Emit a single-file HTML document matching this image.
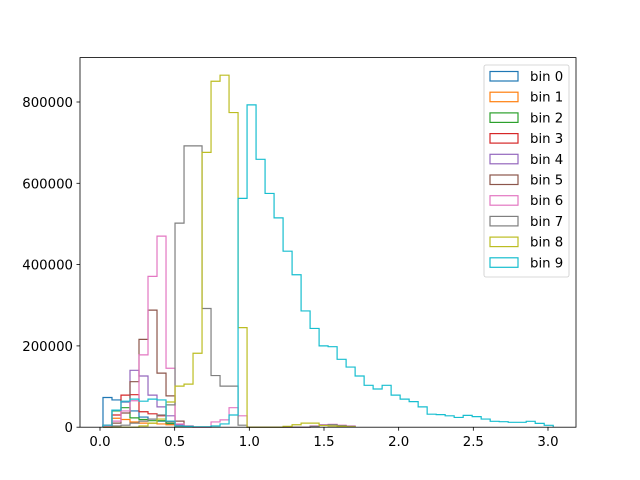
<!DOCTYPE html>
<html><head><meta charset="utf-8"><style>
body{margin:0;background:#fff}
svg{display:block;font-family:"DejaVu Sans","Liberation Sans",sans-serif}
</style></head><body>
<svg id="chart" width="640" height="480"></svg>
<script>
const binStart = 0.02;
const binWidth = 0.0603;
const seriesNames = ["bin 0","bin 1","bin 2","bin 3","bin 4","bin 5","bin 6","bin 7","bin 8","bin 9"];
const colors = ["#1f77b4","#ff7f0e","#2ca02c","#d62728","#9467bd","#8c564b","#e377c2","#7f7f7f","#bcbd22","#17becf"];
const s0 = [73000,67000,62000,40000,25000,20000,15000,8000,3000];
const s1 = [5000,22000,19000,13000,10000,10000,8000,6000,2000];
const s2 = [5000,40000,48000,23000,19000,16000,16000,10000,3000];
const s3 = [5000,30000,79000,80000,38000,33000,28000,14000,5000];
const s4 = [5000,42000,63000,140000,126000,79000,50000,28000,5000];
const s5 = [2000,10000,35000,112000,216000,288000,133000,77000,15000,3000];
const s6 = [3000,15000,40000,65000,178000,371000,470000,145000,8000,3000,0,0,13000,18000,48000,28000,0,0,0,0,0,0,0,3000,6000,7000,5000,3000];
const s7 = [0,3000,5000,10000,15000,20000,30000,55000,502000,692000,692000,292000,127000,101000,101000,5000,0,0,0,0,0,0,0,2000,5000,6000,4000,2000];
const s8 = [0,0,0,0,3000,10000,20000,62000,101000,106000,182000,676000,851000,866000,774000,245000,0,0,0,0,2000,6000,10000,10000,4000,3000,2000,1000];
const s9 = [5000,42000,64000,69000,64000,69000,67000,15000,3000,2000,1000,1000,3000,8000,30000,563000,793000,659000,575000,515000,433000,375000,286000,243000,200000,198000,167000,148000,126000,103000,94000,103000,79000,69000,63000,50000,32000,31000,28000,24000,29000,26000,20000,14500,13600,12000,12000,14500,9500,4700];
const allSeries = [s0,s1,s2,s3,s4,s5,s6,s7,s8,s9];
const xTicks = [0,0.5,1,1.5,2,2.5,3];
const xTickLabels = ["0.0","0.5","1.0","1.5","2.0","2.5","3.0"];
const yTicks = [0,200000,400000,600000,800000];

const L=80,R=576,T=57.6,B=427.2;
const xs = v => 100 + v*149.33;
const ys = v => B - v*0.0004065;
const NS="http://www.w3.org/2000/svg";
const svg=document.getElementById('chart');
function mk(tag,attrs,parent){const e=document.createElementNS(NS,tag);for(const k in attrs)e.setAttribute(k,attrs[k]);(parent||svg).appendChild(e);return e;}

const plot=mk('g',{});


allSeries.forEach((vals,si)=>{
  let d=`M${xs(binStart).toFixed(2)},${ys(0).toFixed(2)}`;
  vals.forEach((v,i)=>{
    const x0=xs(binStart+i*binWidth), x1=xs(binStart+(i+1)*binWidth), y=ys(v);
    d+=` L${x0.toFixed(2)},${y.toFixed(2)} L${x1.toFixed(2)},${y.toFixed(2)}`;
  });
  d+=` L${xs(binStart+vals.length*binWidth).toFixed(2)},${ys(0).toFixed(2)}`;
  const p=mk('path',{d:d,fill:'none',stroke:colors[si],'stroke-width':1.2},plot);
  
  
});
const frame=mk('rect',{x:L,y:T,width:R-L,height:B-T,fill:'none',stroke:'#000','stroke-width':0.8});


xTicks.forEach((t,i)=>{
  const x=xs(t);
  mk('line',{x1:x,x2:x,y1:B,y2:B+3.5,stroke:'#000','stroke-width':0.8});
  const tx=mk('text',{x:x,y:B+19,'text-anchor':'middle','font-size':13.3,fill:'#000'});
  tx.textContent=xTickLabels[i];
  
  
});
yTicks.forEach(t=>{
  const y=ys(t);
  mk('line',{x1:L-3.5,x2:L,y1:y,y2:y,stroke:'#000','stroke-width':0.8});
  const tx=mk('text',{x:L-7,y:y+5,'text-anchor':'end','font-size':13.3,fill:'#000'});
  tx.textContent=String(t);
  
  
});
const lg=mk('g',{});


mk('rect',{x:484,y:65,width:85,height:212,rx:2,fill:'#fff','fill-opacity':0.8,stroke:'#ccc','stroke-width':0.8},lg);
seriesNames.forEach((n,i)=>{
  const cy=76+i*20.7;
  const g=mk('g',{},lg);
  
  
  mk('rect',{x:490,y:cy-4.5,width:28,height:9.5,fill:'none',stroke:colors[i],'stroke-width':1.2},g);
  const t=mk('text',{x:530,y:cy+5,'font-size':13.3,fill:'#000'},g);
  t.textContent=n;
});
</script>
</body></html>
